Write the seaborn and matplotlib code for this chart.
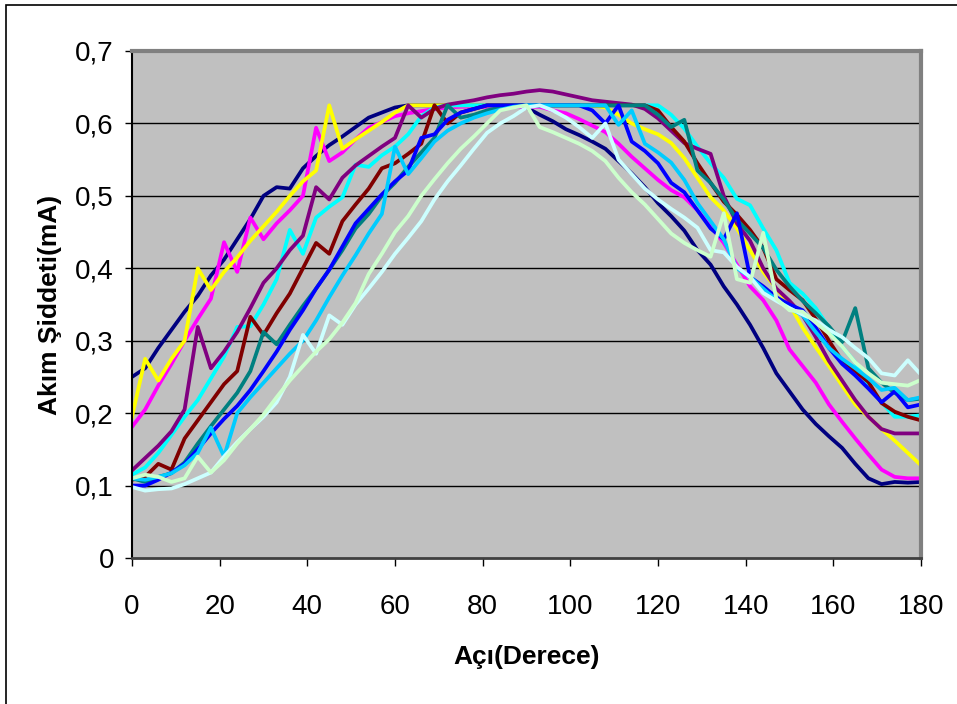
import matplotlib
matplotlib.use("Agg")
import pandas as pd
import seaborn as sns
import matplotlib.pyplot as plt
from matplotlib.patches import Rectangle

# angle grid (degrees) and readings (mA) for each run
angles = list(range(0, 181, 3))

navy = [0.250, 0.262, 0.290, 0.315, 0.340, 0.362, 0.390, 0.412, 0.440, 0.468,
        0.500, 0.512, 0.510, 0.538, 0.555, 0.570, 0.582, 0.595, 0.608, 0.615,
        0.622, 0.625, 0.625, 0.625, 0.625, 0.625, 0.625, 0.625, 0.625, 0.625,
        0.622, 0.612, 0.603, 0.592, 0.584, 0.575, 0.565, 0.548, 0.531, 0.512,
        0.490, 0.472, 0.452, 0.425, 0.405, 0.375, 0.350, 0.322, 0.290, 0.255,
        0.230, 0.205, 0.185, 0.168, 0.152, 0.130, 0.110, 0.102, 0.105, 0.104,
        0.105]
magenta = [0.181, 0.205, 0.238, 0.268, 0.300, 0.330, 0.358, 0.436, 0.395, 0.470,
           0.440, 0.462, 0.480, 0.500, 0.594, 0.548, 0.560, 0.578, 0.594, 0.602,
           0.610, 0.614, 0.617, 0.620, 0.622, 0.623, 0.623, 0.623, 0.623, 0.623,
           0.623, 0.623, 0.618, 0.614, 0.606, 0.597, 0.588, 0.572, 0.554, 0.538,
           0.522, 0.508, 0.498, 0.480, 0.458, 0.435, 0.405, 0.375, 0.356, 0.328,
           0.288, 0.265, 0.242, 0.212, 0.188, 0.165, 0.143, 0.122, 0.112, 0.110,
           0.110]
yellow = [0.195, 0.275, 0.245, 0.275, 0.300, 0.400, 0.370, 0.395, 0.415, 0.438,
          0.458, 0.478, 0.500, 0.520, 0.535, 0.625, 0.565, 0.578, 0.590, 0.602,
          0.615, 0.625, 0.625, 0.625, 0.625, 0.625, 0.625, 0.625, 0.625, 0.625,
          0.625, 0.625, 0.625, 0.625, 0.625, 0.625, 0.622, 0.612, 0.600, 0.592,
          0.585, 0.573, 0.552, 0.525, 0.498, 0.480, 0.455, 0.425, 0.395, 0.372,
          0.350, 0.318, 0.291, 0.265, 0.238, 0.212, 0.195, 0.178, 0.162, 0.145,
          0.128]
cyan = [0.115, 0.125, 0.145, 0.170, 0.195, 0.218, 0.248, 0.278, 0.319, 0.320,
        0.350, 0.385, 0.453, 0.420, 0.470, 0.485, 0.498, 0.543, 0.540, 0.556,
        0.568, 0.585, 0.610, 0.622, 0.625, 0.625, 0.625, 0.625, 0.625, 0.625,
        0.625, 0.625, 0.625, 0.625, 0.625, 0.625, 0.625, 0.625, 0.625, 0.625,
        0.625, 0.612, 0.593, 0.568, 0.545, 0.525, 0.496, 0.487, 0.455, 0.425,
        0.380, 0.365, 0.345, 0.318, 0.292, 0.270, 0.238, 0.215, 0.195, 0.195,
        0.197]
purple = [0.121, 0.138, 0.155, 0.175, 0.205, 0.319, 0.262, 0.285, 0.312, 0.345,
          0.380, 0.400, 0.425, 0.445, 0.512, 0.495, 0.525, 0.542, 0.555, 0.568,
          0.580, 0.625, 0.608, 0.620, 0.626, 0.629, 0.632, 0.636, 0.639, 0.641,
          0.644, 0.646, 0.644, 0.640, 0.636, 0.632, 0.630, 0.628, 0.626, 0.620,
          0.607, 0.590, 0.573, 0.565, 0.558, 0.500, 0.462, 0.438, 0.400, 0.372,
          0.355, 0.335, 0.305, 0.272, 0.245, 0.218, 0.195, 0.178, 0.172, 0.172,
          0.172]
maroon = [0.108, 0.112, 0.130, 0.122, 0.165, 0.190, 0.215, 0.240, 0.258, 0.333,
          0.308, 0.338, 0.365, 0.400, 0.435, 0.420, 0.465, 0.488, 0.510, 0.538,
          0.545, 0.558, 0.572, 0.625, 0.600, 0.615, 0.620, 0.625, 0.625, 0.625,
          0.625, 0.625, 0.625, 0.625, 0.625, 0.625, 0.625, 0.625, 0.625, 0.625,
          0.618, 0.595, 0.575, 0.545, 0.518, 0.492, 0.474, 0.453, 0.428, 0.385,
          0.370, 0.356, 0.330, 0.300, 0.272, 0.258, 0.243, 0.214, 0.202, 0.195,
          0.190]
teal = [0.110, 0.105, 0.112, 0.117, 0.132, 0.158, 0.182, 0.205, 0.228, 0.258,
        0.312, 0.295, 0.322, 0.348, 0.372, 0.398, 0.425, 0.455, 0.475, 0.500,
        0.518, 0.540, 0.560, 0.580, 0.625, 0.608, 0.612, 0.618, 0.622, 0.625,
        0.625, 0.625, 0.625, 0.625, 0.625, 0.625, 0.625, 0.625, 0.625, 0.625,
        0.612, 0.595, 0.605, 0.535, 0.518, 0.495, 0.467, 0.448, 0.428, 0.398,
        0.375, 0.355, 0.338, 0.320, 0.298, 0.345, 0.262, 0.242, 0.228, 0.218,
        0.220]
blue = [0.100, 0.100, 0.108, 0.118, 0.130, 0.150, 0.172, 0.192, 0.210, 0.232,
        0.258, 0.285, 0.315, 0.342, 0.372, 0.398, 0.430, 0.462, 0.482, 0.502,
        0.520, 0.535, 0.580, 0.585, 0.605, 0.615, 0.620, 0.625, 0.625, 0.625,
        0.625, 0.625, 0.625, 0.625, 0.625, 0.618, 0.600, 0.625, 0.575, 0.562,
        0.545, 0.518, 0.505, 0.480, 0.455, 0.440, 0.476, 0.388, 0.375, 0.360,
        0.350, 0.342, 0.318, 0.290, 0.268, 0.252, 0.234, 0.215, 0.230, 0.208,
        0.212]
sky = [0.110, 0.108, 0.112, 0.117, 0.128, 0.145, 0.180, 0.140, 0.200, 0.222,
       0.242, 0.262, 0.282, 0.300, 0.328, 0.360, 0.390, 0.418, 0.448, 0.475,
       0.568, 0.530, 0.552, 0.575, 0.590, 0.600, 0.608, 0.614, 0.619, 0.623,
       0.625, 0.625, 0.625, 0.625, 0.625, 0.625, 0.625, 0.598, 0.618, 0.572,
       0.560, 0.546, 0.522, 0.490, 0.465, 0.440, 0.400, 0.388, 0.372, 0.356,
       0.345, 0.335, 0.312, 0.290, 0.275, 0.262, 0.248, 0.232, 0.235, 0.218,
       0.222]
lightcyan = [0.098, 0.093, 0.095, 0.096, 0.102, 0.110, 0.118, 0.140, 0.160, 0.178,
             0.195, 0.215, 0.250, 0.308, 0.282, 0.335, 0.322, 0.350, 0.372, 0.395,
             0.420, 0.442, 0.465, 0.495, 0.520, 0.542, 0.565, 0.587, 0.600, 0.610,
             0.622, 0.625, 0.618, 0.608, 0.595, 0.580, 0.600, 0.550, 0.530, 0.510,
             0.495, 0.482, 0.470, 0.456, 0.425, 0.422, 0.402, 0.388, 0.366, 0.355,
             0.345, 0.336, 0.328, 0.315, 0.305, 0.290, 0.276, 0.255, 0.252, 0.273,
             0.253]
lightgreen = [0.110, 0.115, 0.112, 0.105, 0.110, 0.140, 0.118, 0.135, 0.158, 0.178,
              0.198, 0.222, 0.245, 0.265, 0.285, 0.302, 0.325, 0.352, 0.392, 0.420,
              0.450, 0.472, 0.500, 0.523, 0.545, 0.565, 0.582, 0.600, 0.618, 0.622,
              0.625, 0.595, 0.588, 0.580, 0.572, 0.562, 0.548, 0.525, 0.505, 0.488,
              0.468, 0.448, 0.435, 0.425, 0.416, 0.476, 0.385, 0.380, 0.449, 0.358,
              0.342, 0.340, 0.325, 0.310, 0.292, 0.270, 0.255, 0.242, 0.240, 0.238,
              0.246]

series = {
    "navy": (navy, "#000080"),
    "magenta": (magenta, "#FF00FF"),
    "yellow": (yellow, "#FFFF00"),
    "cyan": (cyan, "#00FFFF"),
    "purple": (purple, "#800080"),
    "maroon": (maroon, "#800000"),
    "teal": (teal, "#008080"),
    "blue": (blue, "#0000FF"),
    "sky": (sky, "#00CCFF"),
    "lightcyan": (lightcyan, "#CCFFFF"),
    "lightgreen": (lightgreen, "#CCFFCC"),
}

yticks = [0, 0.1, 0.2, 0.3, 0.4, 0.5, 0.6, 0.7]
ytick_labels = ["0", "0,1", "0,2", "0,3", "0,4", "0,5", "0,6", "0,7"]
xticks = [0, 20, 40, 60, 80, 100, 120, 140, 160, 180]

rows = []
for name, (vals, _) in series.items():
    for a, v in zip(angles, vals):
        rows.append((name, a, v))
df = pd.DataFrame(rows, columns=["run", "angle", "current"])
palette = {name: c for name, (_, c) in series.items()}

plt.rcParams['font.family'] = ['Liberation Sans', 'DejaVu Sans']

fig = plt.figure(figsize=(9.57, 7.04), dpi=100)
ax = fig.add_axes([132/957, 1 - 558/704, 789/957, 507/704])
ax.set_facecolor("#C0C0C0")

for y in yticks[1:]:
    ax.axhline(y, color="black", lw=1, zorder=1)

sns.lineplot(data=df, x="angle", y="current", hue="run", hue_order=list(series),
             palette=palette, linewidth=2.7, legend=False, errorbar=None,
             sort=False, ax=ax, zorder=2)

ax.set_xlim(0, 180)
ax.set_ylim(0, 0.7)
ax.set_xticks(xticks)
ax.set_yticks(yticks)
ax.set_yticklabels(ytick_labels)
ax.tick_params(axis="x", direction="out", length=6, width=1, pad=20, labelsize=20)
ax.tick_params(axis="y", direction="out", length=5, width=1, pad=8, labelsize=20)

for s in ["top", "right"]:
    ax.spines[s].set_color("#808080")
    ax.spines[s].set_linewidth(3)
ax.spines["left"].set_color("black")
ax.spines["left"].set_linewidth(1.5)
ax.spines["bottom"].set_color("#404040")
ax.spines["bottom"].set_linewidth(2)

ax.set_xlabel("Açı(Derece)", fontsize=19, fontweight="bold")
ax.set_ylabel("Akım Şiddeti(mA)", fontsize=19, fontweight="bold")
ax.xaxis.set_label_coords(0.5, -0.195)
ax.xaxis.label.set_va("center")
ax.yaxis.set_label_coords(-0.104, 0.5)
ax.yaxis.label.set_va("center")

fig.patches.append(Rectangle((6/957, -0.1), 1.2, 1.1 - 5/704, transform=fig.transFigure,
                             fill=False, edgecolor="black", lw=1.2))

fig.savefig("out.png", dpi=100, facecolor="white")
